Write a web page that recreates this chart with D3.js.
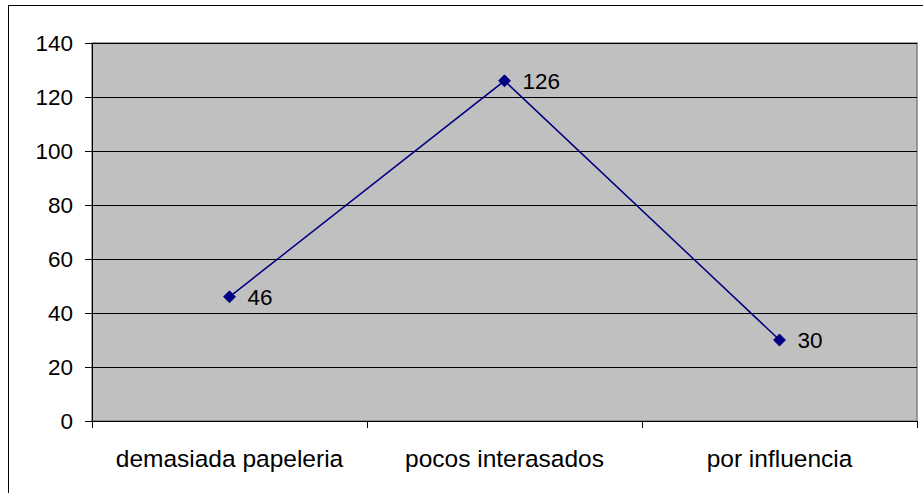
<!DOCTYPE html>
<html><head><meta charset="utf-8">
<script src="https://cdn.jsdelivr.net/npm/d3@7"></script>
<style>body{margin:0;background:#fff}svg{display:block}</style>
</head><body><svg id="c" width="923" height="493"></svg>
<script>
const categories = ["demasiada papeleria", "pocos interasados", "por influencia"];
const values = [46, 126, 30];
const yTicks = [0, 20, 40, 60, 80, 100, 120, 140];

const svg = d3.select("#c");
const font = "'Liberation Sans', Arial, sans-serif";
const L = 92, R = 917, T = 43, B = 421;

// outer frame
svg.append("rect").attr("x", 8.5).attr("y", 5.5).attr("width", 930).attr("height", 500)
  .attr("fill", "none").attr("stroke", "#000").attr("stroke-width", 1);

const x = d3.scaleBand().domain(categories).range([L, R]).padding(0);
const y = d3.scaleLinear().domain([0, 140]).range([B, T]);

svg.append("rect").attr("x", L).attr("y", T).attr("width", R - L).attr("height", B - T)
  .attr("fill", "#c0c0c0").attr("stroke", "#808080").attr("stroke-width", 1.5);

// gridlines
svg.append("g").selectAll("line").data(yTicks.filter(d => d > 0)).join("line")
  .attr("x1", L).attr("x2", R).attr("y1", d => Math.round(y(d)) + 0.5).attr("y2", d => Math.round(y(d)) + 0.5)
  .attr("stroke", "#000").attr("stroke-width", 1);

// y axis
const ya = svg.append("g").attr("transform", `translate(${L},0)`)
  .call(d3.axisLeft(y).tickValues(yTicks).tickSize(7).tickPadding(12));
ya.selectAll("text").attr("font-family", font).attr("font-size", 22.5).attr("fill", "#000");
ya.selectAll("line,path").attr("stroke", "#000");
ya.select(".domain").attr("d", `M0.5,${T}V${B}`);

// x axis
const xa = svg.append("g").attr("transform", `translate(0,${B})`);
xa.append("line").attr("x1", L).attr("x2", R).attr("y1", 0.5).attr("y2", 0.5).attr("stroke", "#000");
const bounds = categories.map(c => x(c)).concat([R]);
xa.selectAll("line.t").data(bounds).join("line").attr("class", "t")
  .attr("x1", d => d + 0.5).attr("x2", d => d + 0.5).attr("y1", 0).attr("y2", 7).attr("stroke", "#000");
xa.selectAll("text").data(categories).join("text")
  .attr("x", d => x(d) + x.bandwidth() / 2).attr("y", 46)
  .attr("text-anchor", "middle").attr("font-family", font).attr("font-size", 24.5).attr("fill", "#000")
  .text(d => d);

// line
const cx = d => x(d) + x.bandwidth() / 2;
const line = d3.line().x(d => cx(d.c)).y(d => y(d.v));
const data = categories.map((c, i) => ({ c, v: values[i] }));
svg.append("path").datum(data).attr("d", line).attr("fill", "none")
  .attr("stroke", "#000080").attr("stroke-width", 1.5);

svg.append("g").selectAll("path").data(data).join("path")
  .attr("transform", d => `translate(${cx(d.c)},${y(d.v)})`)
  .attr("d", d3.symbol(d3.symbolDiamond2, 90)())
  .attr("fill", "#000080").attr("stroke", "#000080").attr("stroke-width", 1);

svg.append("g").selectAll("text").data(data).join("text")
  .attr("x", d => cx(d.c) + 18).attr("y", d => y(d.v) + 8)
  .attr("font-family", font).attr("font-size", 22.5).attr("fill", "#000")
  .text(d => d.v);
</script></body></html>
